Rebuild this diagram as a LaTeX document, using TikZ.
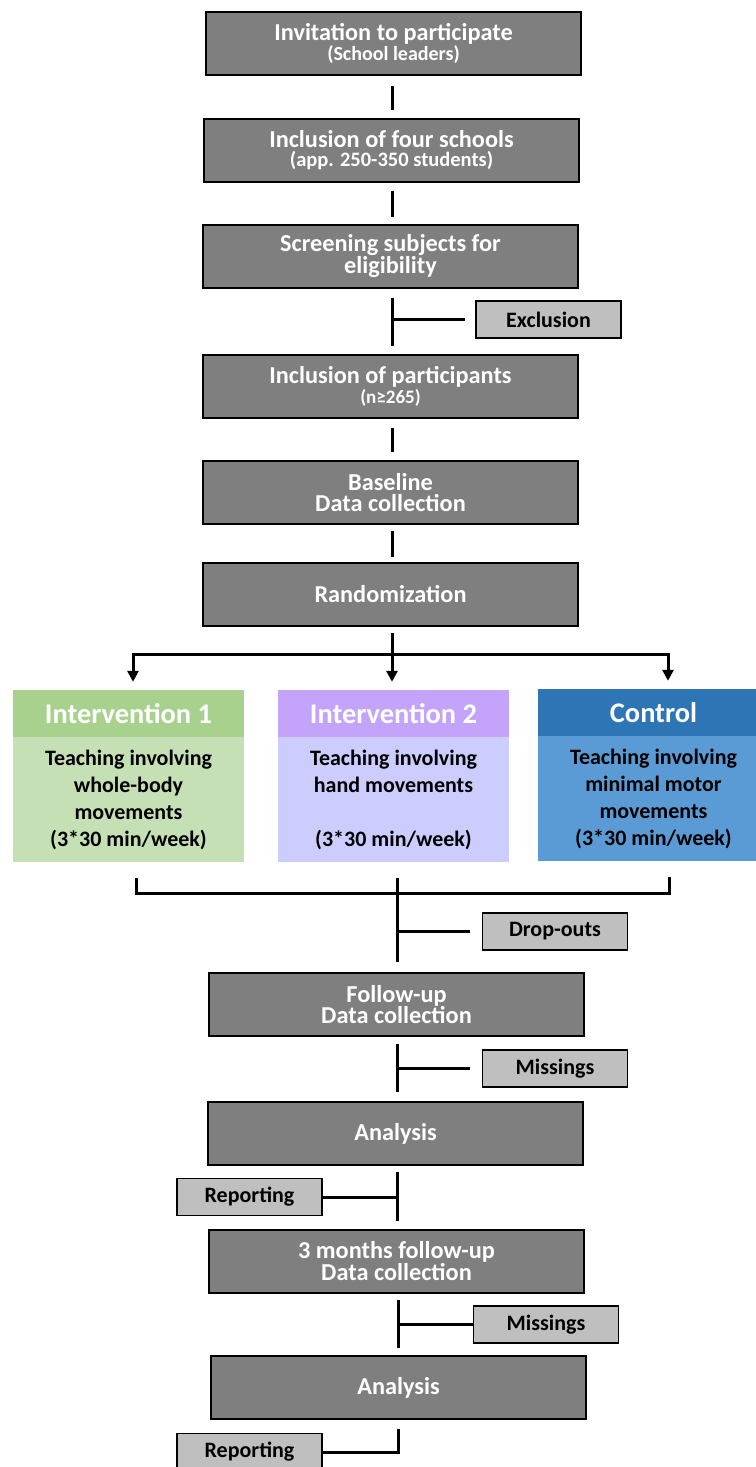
\documentclass[tikz,border=0pt]{standalone}
\usepackage{fontspec}
\setmainfont{Carlito}
\usetikzlibrary{arrows.meta,calc}
\definecolor{boxgray}{HTML}{7F7F7F}
\definecolor{sidegray}{HTML}{BFBFBF}
\definecolor{gAh}{HTML}{A9D18E}
\definecolor{gAb}{HTML}{C5E0B4}
\definecolor{pBh}{HTML}{C4A4FB}
\definecolor{pBb}{HTML}{CCCCFF}
\definecolor{cCh}{HTML}{2E75B6}
\definecolor{cCb}{HTML}{5B9BD5}
\begin{document}
\begin{tikzpicture}[x=1pt,y=-1pt,
  mainbox/.style={draw=black, line width=2pt, fill=boxgray, minimum width=375pt, minimum height=63pt,
    text=white, font=\bfseries\fontsize{24.3}{21.5}\selectfont, align=center, inner sep=0pt},
  sidebox/.style={draw=black, line width=1.8pt, fill=sidegray, minimum width=145pt, minimum height=37pt,
    text=black, font=\bfseries\fontsize{22}{24}\selectfont, inner sep=0pt},
  headbox/.style={minimum width=231pt, minimum height=47pt, inner sep=0pt, text=white,
    font=\bfseries\fontsize{28.4}{30}\selectfont},
  bodybox/.style={minimum width=231pt, minimum height=125pt, inner sep=0pt, text=black, align=center,
    font=\bfseries\fontsize{22}{27}\selectfont},
  conn/.style={draw=black, line width=3pt},
  arr/.style={conn, -{Triangle[width=11pt,length=11pt]}}
]
\useasboundingbox (0,0) rectangle (755,1467);
\fill[white] (0,0) rectangle (755,1467);

% main flow boxes
\node[mainbox] (n1) at (393.5,43.5) {Invitation to participate\\[-2pt]{\fontsize{20}{17}\selectfont (School leaders)}};
\node[mainbox] (n2) at (391.5,150) {Inclusion of four schools\\[-2pt]{\fontsize{20.5}{17}\selectfont (app. 250-350 students)}};
\node[mainbox] (n3) at (390.5,256) {Screening subjects for\\eligibility};
\node[mainbox] (n4) at (390.5,386.5) {Inclusion of participants\\[-2pt]{\fontsize{19}{17}\selectfont (n≥265)}};
\node[mainbox] (n5) at (390.5,492.5) {Baseline\\Data collection};
\node[mainbox] (n6) at (390.5,594.5) {Randomization};
\node[mainbox] (n7) at (396.5,1004.5) {Follow-up\\Data collection};
\node[mainbox] (n8) at (395.5,1133.5) {Analysis};
\node[mainbox] (n9) at (396.5,1261) {3 months follow-up\\Data collection};
\node[mainbox] (n10) at (398.5,1387.5) {Analysis};

% side boxes
\node[sidebox] (excl) at (548.5,319.5) {Exclusion};
\node[sidebox] (drop) at (555,931.5) {Drop-outs};
\node[sidebox] (miss1) at (555,1068.5) {Missings};
\node[sidebox] (rep1) at (249.5,1197) {Reporting};
\node[sidebox] (miss2) at (546,1324.5) {Missings};
\node[sidebox] (rep2) at (249.5,1452) {Reporting};

% group boxes
\node[headbox, fill=gAh] (h1) at (128.5,713.5) {Intervention 1};
\node[bodybox, fill=gAb] (b1) at (128.5,799.5) {Teaching involving\\whole-body\\movements\\(3*30 min/week)};
\node[headbox, fill=pBh] (h2) at (393.5,713.5) {Intervention 2};
\node[bodybox, fill=pBb] (b2) at (393.5,799.5) {Teaching involving\\hand movements\\\mbox{}\\(3*30 min/week)};
\node[headbox, fill=cCh] (h3) at (653.5,712.5) {Control};
\node[bodybox, fill=cCb] (b3) at (653.5,798.5) {Teaching involving\\minimal motor\\movements\\(3*30 min/week)};

% simple connectors
\draw[conn] ($(n1.south)+(-1.5,10)$) -- ($(n2.north)+(0.5,-8)$);
\draw[conn] ($(n2.south)+(0.5,8)$) -- ($(n3.north)+(1.5,-7)$);
\draw[conn] ($(n3.south)+(1.5,9)$) -- ($(n4.north)+(1.5,-8)$);
\draw[conn] (excl.west -| n4.north) ++(1.5,0) -- ($(excl.west)+(-10,0)$);
\draw[conn] ($(n4.south)+(1.5,9)$) -- ($(n5.north)+(1.5,-8)$);
\draw[conn] ($(n5.south)+(1.5,6)$) -- ($(n6.north)+(1.5,-5)$);

% randomization branch
\coordinate (jm) at (392,654);
\coordinate (jl) at (133,654);
\coordinate (jr) at (668,654);
\draw[conn] ($(n6.south)+(1.5,6)$) -- (jm);
\draw[arr] (jm) -- ($(h2.north)+(-1.5,-8)$);
\draw[arr] (jr) -- ($(h3.north)+(14.5,-8)$);
\draw[arr] (jl) -- ($(h1.north)+(4.5,-8)$);
\draw[conn, line cap=rect] (jl) -- (jr);

% merge
\coordinate (ml) at (136,893);
\coordinate (mr) at (669,893);
\draw[conn, line join=miter] ($(b1.south)+(7.5,16)$) |- (ml) -- (mr) -- ($(b3.south)+(15.5,16)$);
\coordinate (mt) at (397,878);
\draw[conn] (mt) -- ($(n7.north)+(0.5,-10)$);
\draw[conn] (drop.west -| mt) -- ($(drop.west)+(-12,0)$);

\draw[conn] ($(n7.south)+(0.5,7)$) -- ($(n8.north)+(1.5,-9)$);
\draw[conn] (miss1.west -| n7.south) ++(0.5,0) -- ($(miss1.west)+(-12,0)$);

\draw[conn] ($(n8.south)+(1.5,6)$) -- ($(n9.north)+(0.5,-8)$);
\draw[conn] (rep1.east -| n9.north) ++(0.5,0) -- (rep1.east);

\draw[conn] ($(n9.south)+(1.5,6)$) -- ($(n10.north)+(-0.5,-7)$);
\draw[conn] (miss2.west -| n10.north) ++(-0.5,0) -- (miss2.west);

\draw[conn, line join=miter] ($(n10.south)+(-0.5,9)$) |- (rep2.east);
\end{tikzpicture}
\end{document}
